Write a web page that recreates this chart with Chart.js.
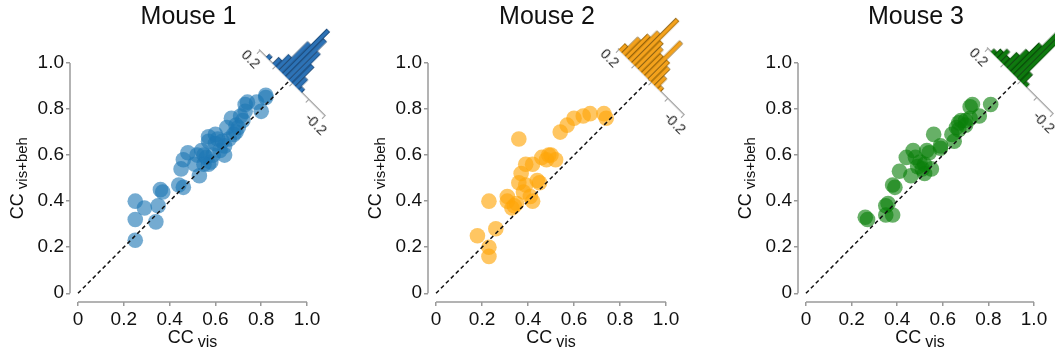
<!DOCTYPE html>
<html>
<head>
<meta charset="utf-8">
<script src="https://cdn.jsdelivr.net/npm/chart.js@4.4.1/dist/chart.umd.min.js"></script>
<style>
  body { margin: 0; background: #fff; }
  #wrap { position: relative; width: 1055px; height: 353px; overflow: hidden; }
  #wrap canvas { position: absolute; top: 0; }
</style>
</head>
<body>
<div id="wrap">
  <canvas id="m1" width="345" height="353"></canvas>
  <canvas id="m2" width="345" height="353"></canvas>
  <canvas id="m3" width="350" height="353"></canvas>
  <canvas id="h1" width="160" height="110"></canvas>
  <canvas id="h2" width="160" height="110"></canvas>
  <canvas id="h3" width="160" height="110"></canvas>
</div>
<script>
// axis ticks
const tickVals = [0, 0.2, 0.4, 0.6, 0.8, 1.0];
const tickLabels = ['0', '0.2', '0.4', '0.6', '0.8', '1.0'];
const diagLine = [0, 0.94];

// histogram of (vis+beh - vis), bin centres and ticks
const histBins = [0.19, 0.17, 0.15, 0.13, 0.11, 0.09, 0.07, 0.05, 0.03, 0.01, -0.01, -0.03, -0.05];
const histTicks = [0.2, 0.1, 0, -0.1, -0.2];
const histTickLabels = ['0.2', '', '', '', '-0.2'];

// Mouse 1
const mouse1X = [0.25, 0.25, 0.25, 0.29, 0.34, 0.35, 0.36, 0.37, 0.44, 0.46, 0.45, 0.46, 0.48, 0.52, 0.51, 0.53,
  0.54, 0.57, 0.56, 0.55, 0.57, 0.57, 0.60, 0.61, 0.62, 0.59, 0.64, 0.65, 0.67, 0.69, 0.71, 0.69, 0.72, 0.73,
  0.74, 0.73, 0.78, 0.80, 0.82, 0.82, 0.66, 0.64, 0.58, 0.55, 0.60, 0.63, 0.68, 0.70];
const mouse1Y = [0.23, 0.32, 0.40, 0.37, 0.31, 0.38, 0.45, 0.44, 0.47, 0.46, 0.54, 0.58, 0.61, 0.60, 0.56, 0.51,
  0.62, 0.56, 0.59, 0.60, 0.68, 0.66, 0.69, 0.67, 0.62, 0.60, 0.64, 0.72, 0.76, 0.73, 0.77, 0.70, 0.75, 0.82,
  0.83, 0.79, 0.83, 0.79, 0.86, 0.85, 0.67, 0.60, 0.57, 0.56, 0.65, 0.66, 0.69, 0.72];
const mouse1Hist = [0, 0, 1, 0, 2, 4, 9, 14, 12, 9, 6, 3, 1];

// Mouse 2
const mouse2X = [0.18, 0.23, 0.23, 0.23, 0.26, 0.31, 0.31, 0.34, 0.33, 0.36, 0.36, 0.37, 0.38, 0.39, 0.39, 0.41,
  0.42, 0.42, 0.44, 0.45, 0.46, 0.48, 0.49, 0.50, 0.52, 0.54, 0.57, 0.60, 0.64, 0.67, 0.73, 0.74, 0.35];
const mouse2Y = [0.25, 0.20, 0.16, 0.40, 0.28, 0.42, 0.40, 0.38, 0.37, 0.67, 0.48, 0.52, 0.44, 0.47, 0.56, 0.42,
  0.40, 0.56, 0.49, 0.48, 0.59, 0.58, 0.60, 0.60, 0.58, 0.70, 0.73, 0.76, 0.77, 0.78, 0.78, 0.76, 0.39];
const mouse2Hist = [2, 5, 7, 9, 14, 8, 7, 6, 11, 6, 5, 3, 1];

// Mouse 3
const mouse3X = [0.26, 0.27, 0.35, 0.36, 0.35, 0.38, 0.38, 0.39, 0.41, 0.44, 0.47, 0.48, 0.46, 0.50, 0.51, 0.52,
  0.53, 0.54, 0.55, 0.56, 0.59, 0.59, 0.49, 0.52, 0.65, 0.66, 0.67, 0.67, 0.68, 0.70, 0.72, 0.73, 0.76, 0.81,
  0.72, 0.64, 0.70];
const mouse3Y = [0.33, 0.32, 0.38, 0.39, 0.34, 0.34, 0.47, 0.46, 0.53, 0.59, 0.62, 0.59, 0.51, 0.57, 0.54, 0.52,
  0.62, 0.61, 0.54, 0.69, 0.64, 0.63, 0.55, 0.56, 0.66, 0.72, 0.74, 0.71, 0.75, 0.75, 0.76, 0.82, 0.77, 0.82,
  0.81, 0.69, 0.73];
const mouse3Hist = [0, 1, 2, 3, 2, 4, 6, 9, 14, 18, 3, 1, 0];

const FONT = '"Liberation Sans", Arial, Helvetica, sans-serif';
Chart.defaults.font.family = FONT;
Chart.defaults.color = '#1a1a1a';

const panels = [
  { id: 'm1', hid: 'h1', title: 'Mouse 1', xs: mouse1X, ys: mouse1Y, hist: mouse1Hist,
    left: 0, padL: 30, padR: 38, dot: 'rgba(31,119,180,0.62)', bar: '#2c72b6', edge: '#163c66', hx: 292, hy: 83 },
  { id: 'm2', hid: 'h2', title: 'Mouse 2', xs: mouse2X, ys: mouse2Y, hist: mouse2Hist,
    left: 350, padL: 38, padR: 29, dot: 'rgba(255,166,10,0.64)', bar: '#f4a21c', edge: '#7a5000', hx: 651, hy: 82 },
  { id: 'm3', hid: 'h3', title: 'Mouse 3', xs: mouse3X, ys: mouse3Y, hist: mouse3Hist,
    left: 705, padL: 53, padR: 21, dot: 'rgba(10,128,10,0.62)', bar: '#0e7a0e', edge: '#063806', hx: 1019.5, hy: 81 }
];

function subText(ctx, main, sub, cx, by, mainSize, subSize) {
  ctx.font = mainSize + 'px ' + FONT;
  const w1 = ctx.measureText(main).width;
  ctx.font = subSize + 'px ' + FONT;
  const w2 = ctx.measureText(sub).width;
  const gap = 4;
  const x = cx - (w1 + gap + w2) / 2;
  ctx.textAlign = 'left';
  ctx.textBaseline = 'alphabetic';
  ctx.font = mainSize + 'px ' + FONT;
  ctx.fillText(main, x, by);
  ctx.font = subSize + 'px ' + FONT;
  ctx.fillText(sub, x + w1 + gap, by + 4);
}

function panelPlugin(title) {
  return {
    id: 'panelText',
    afterDraw(chart) {
      const { ctx, chartArea } = chart;
      const sx = chart.scales.x, sy = chart.scales.y;
      const x0 = sx.getPixelForValue(0), x1 = sx.getPixelForValue(1);
      const y0 = sy.getPixelForValue(0), y1 = sy.getPixelForValue(1);
      ctx.save();
      // detached spines
      ctx.strokeStyle = '#9a9a9a';
      ctx.lineWidth = 1.5;
      ctx.beginPath();
      ctx.moveTo(x0, chartArea.bottom);
      ctx.lineTo(x1, chartArea.bottom);
      ctx.moveTo(chartArea.left, y0);
      ctx.lineTo(chartArea.left, y1);
      ctx.stroke();
      // title
      ctx.fillStyle = '#111';
      ctx.font = '25px ' + FONT;
      ctx.textAlign = 'center';
      ctx.textBaseline = 'alphabetic';
      ctx.fillText(title, (x0 + x1) / 2 - 4, 24);
      // axis labels
      subText(ctx, 'CC', 'vis', (x0 + x1) / 2, 343, 18, 16);
      ctx.translate(chartArea.left - 47, (y0 + y1) / 2);
      ctx.rotate(-Math.PI / 2);
      subText(ctx, 'CC', 'vis+beh', 0, 0, 18, 15);
      ctx.restore();
    }
  };
}

panels.forEach(p => {
  const canvas = document.getElementById(p.id);
  canvas.style.left = p.left + 'px';
  const pts = p.xs.map((x, i) => ({ x: x, y: p.ys[i] }));
  new Chart(canvas, {
    type: 'scatter',
    data: {
      datasets: [
        {
          data: diagLine.map(v => ({ x: v, y: v })),
          showLine: true,
          borderColor: '#111',
          borderWidth: 1.5,
          borderDash: [4, 3],
          pointRadius: 0,
          order: 0
        },
        {
          data: pts,
          backgroundColor: p.dot,
          borderWidth: 0,
          pointRadius: 7.8,
          pointHoverRadius: 7.8,
          order: 1
        }
      ]
    },
    options: {
      responsive: false,
      animation: false,
      layout: { padding: { left: p.padL, right: p.padR, top: 63, bottom: 11 } },
      plugins: { legend: { display: false }, tooltip: { enabled: false } },
      scales: {
        x: {
          type: 'linear', min: -0.035, max: 1.0,
          afterBuildTicks: s => { s.ticks = tickVals.map(v => ({ value: v })); },
          afterFit: s => { s.height = 40; },
          ticks: { callback: (v, i) => tickLabels[i], font: { size: 19 }, color: '#111', padding: 2, maxRotation: 0, autoSkip: false },
          grid: { drawOnChartArea: false, tickLength: 4, color: '#9a9a9a', lineWidth: 1.5 },
          border: { display: false }
        },
        y: {
          type: 'linear', min: -0.038, max: 1.0,
          afterBuildTicks: s => { s.ticks = tickVals.map(v => ({ value: v })); },
          afterFit: s => { s.width = 40; },
          ticks: { callback: (v, i) => tickLabels[i], font: { size: 19 }, color: '#111', padding: 2, autoSkip: false },
          grid: { drawOnChartArea: false, tickLength: 4, color: '#9a9a9a', lineWidth: 1.5 },
          border: { display: false }
        }
      }
    },
    plugins: [panelPlugin(p.title)]
  });

  // rotated histogram of the differences along the anti-diagonal
  const hc = document.getElementById(p.hid);
  hc.style.left = (p.hx - 80) + 'px';
  hc.style.top = (p.hy - 90) + 'px';
  hc.style.transformOrigin = '80px 90px';
  hc.style.transform = 'rotate(45deg)';
  new Chart(hc, {
    type: 'bar',
    data: {
      datasets: [{
        data: histBins.map((b, i) => ({ x: b, y: p.hist[i] })),
        backgroundColor: p.bar,
        borderColor: p.edge,
        borderWidth: 0.8,
        categoryPercentage: 1,
        barPercentage: 1
      }]
    },
    options: {
      responsive: false,
      animation: false,
      layout: { padding: { left: 34, right: 34, top: 0, bottom: 0 } },
      plugins: { legend: { display: false }, tooltip: { enabled: false } },
      scales: {
        x: {
          type: 'linear', min: -0.2, max: 0.2, reverse: true, offset: false,
          afterBuildTicks: s => { s.ticks = histTicks.map(v => ({ value: v })); },
          afterFit: s => { s.height = 20; },
          ticks: { callback: (v, i) => histTickLabels[i], font: { size: 14 }, color: '#222', padding: 1, maxRotation: 0, autoSkip: false },
          grid: { drawOnChartArea: false, offset: false, tickLength: 4, color: '#9a9a9a' },
          border: { color: '#9a9a9a', width: 1.2 }
        },
        y: { display: false, min: 0, max: 20 }
      }
    }
  });
});
</script>
</body>
</html>
